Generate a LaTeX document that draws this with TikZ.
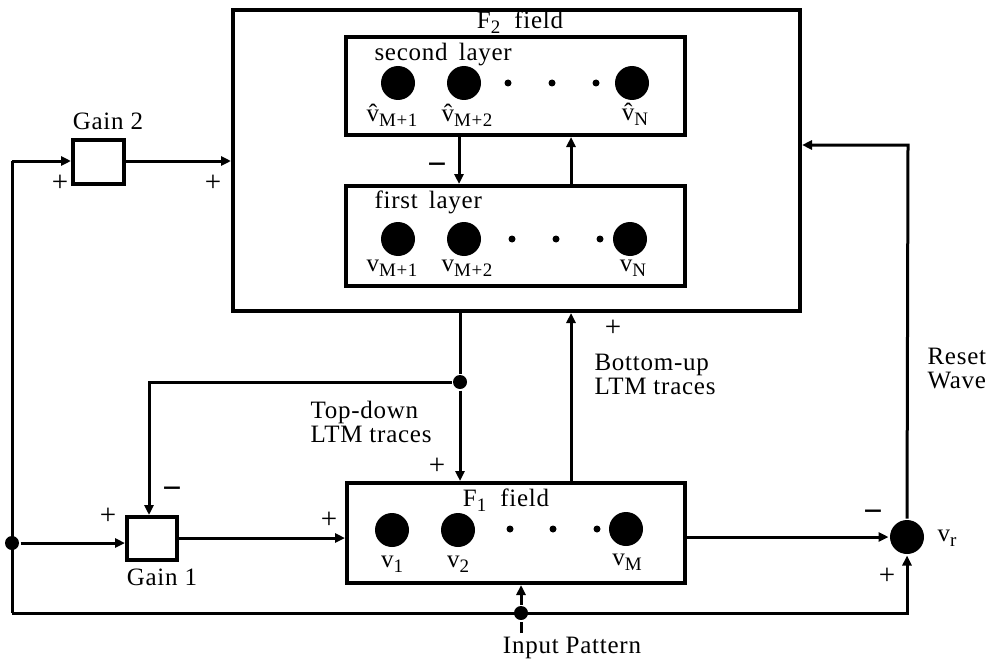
\documentclass[tikz,border=0pt]{standalone}
\usepackage{fontspec}
\setmainfont{Liberation Serif}[LetterSpace=3]
\usetikzlibrary{arrows.meta}
\newcommand\sbs[1]{\raisebox{-0.45ex}{\fontsize{19}{19}\selectfont #1}}
\newcommand\hv{\^{v}}
\begin{document}
\begin{tikzpicture}[x=1pt,y=-1pt, line width=3pt,
  box/.style={draw, line width=4pt, inner sep=0pt},
  neuron/.style={circle, fill=black, minimum size=34pt, inner sep=0pt},
  sdot/.style={circle, fill=black, minimum size=7pt, inner sep=0pt},
  jdot/.style={circle, fill=black, minimum size=14pt, inner sep=0pt},
  lbl/.style={font=\fontsize{25}{24}\selectfont, inner sep=0pt},
  sgn/.style={font=\fontsize{29}{29}\selectfont, inner sep=0pt},
  msgn/.style={font=\fontsize{34}{34}\selectfont\bfseries, inner sep=0pt},
  arr/.style={-{Triangle[length=10pt,width=9pt]}}]
\useasboundingbox (0,0) rectangle (995,666);
% boxes
\node[box, minimum width=567pt, minimum height=301pt] (F2) at (516.5,160.5) {};
\node[box, minimum width=339pt, minimum height=98pt] (L2) at (515.5,86) {};
\node[box, minimum width=339pt, minimum height=100pt] (L1) at (515.5,236) {};
\node[box, minimum width=338pt, minimum height=100pt] (F1) at (516,533) {};
\node[box, minimum width=51pt, minimum height=44pt] (G2) at (98.5,162) {};
\node[box, minimum width=50pt, minimum height=43pt] (G1) at (152,538.5) {};
% neurons second layer
\node[neuron] (s1) at (398,83) {};
\node[neuron] (s2) at (464,83) {};
\node[sdot] (sd1) at (508,83) {};
\node[sdot] (sd2) at (552,83) {};
\node[sdot] (sd3) at (596,83) {};
\node[neuron] (sN) at (632,83) {};
% first layer
\node[neuron] (f1) at (398,239) {};
\node[neuron] (f2) at (464,239) {};
\node[sdot] (fd1) at (512,239) {};
\node[sdot] (fd2) at (556,239) {};
\node[sdot] (fd3) at (600,239) {};
\node[neuron] (fN) at (630,239) {};
% F1
\node[neuron] (v1) at (392,530) {};
\node[neuron] (v2) at (458,530) {};
\node[sdot] (vd1) at (510,529) {};
\node[sdot] (vd2) at (553,529) {};
\node[sdot] (vd3) at (597,529) {};
\node[neuron] (vM) at (626,529) {};
% reset unit
\node[neuron] (vr) at (907,537) {};
% junctions
\node[jdot] (jT) at (460,382) {};
\node[jdot] (jL) at (12,543) {};
\node[jdot] (jI) at (521,613) {};
\coordinate (lt) at (12,161);
\coordinate (lb) at (12,613);
\coordinate (tdc) at (149,382);
\coordinate (rst) at (908,145);
\coordinate (inp) at (521,633);
% texts
\node[lbl] (tF2) at (520,22) {F\sbs{2}\ \ field};
\node[lbl, anchor=west] (tsl) at (373,55) {second\, layer};
\node[lbl] (ts1) at (392,115) {\hv\sbs{M+1}};
\node[lbl] (ts2) at (467,115) {\hv\sbs{M+2}};
\node[lbl] (tsN) at (635,114) {\hv\sbs{N}};
\node[lbl, anchor=west] (tfl) at (373,202) {first\, layer};
\node[lbl] (tf1) at (392,268) {v\sbs{M+1}};
\node[lbl] (tf2) at (467,268) {v\sbs{M+2}};
\node[lbl] (tfN) at (633,268) {v\sbs{N}};
\node[msgn] (m1) at (437,169) {−};
\node[lbl] (tG2) at (108,121) {Gain 2};
\node[sgn] (p1) at (60,183) {+};
\node[sgn] (p2) at (213,183) {+};
\node[lbl, align=left, anchor=north west] (ttd) at (309,400) {Top-down\\LTM traces};
\node[lbl, align=left, anchor=north west] (tbu) at (593,353) {Bottom-up\\LTM traces};
\node[lbl, align=left, anchor=north west] (trw) at (926,347) {Reset\\Wave};
\node[sgn] (p3) at (613,328) {+};
\node[sgn] (p4) at (437,466) {+};
\node[msgn] (m2) at (172,493) {−};
\node[sgn] (p5) at (108,516) {+};
\node[sgn] (p6) at (329,520) {+};
\node[msgn] (m3) at (873,516) {−};
\node[sgn] (p7) at (887,576) {+};
\node[lbl] (tG1) at (162,577) {Gain 1};
\node[lbl] (tF1) at (506,500) {F\sbs{1}\ \ field};
\node[lbl] (tv1) at (392,564) {v\sbs{1}};
\node[lbl] (tv2) at (458,564) {v\sbs{2}};
\node[lbl] (tvM) at (627,562) {v\sbs{M}};
\node[lbl] (tvr) at (947,538) {v\sbs{r}};
\node[lbl] (tin) at (572,648) {Input Pattern};
% connectors
\draw (lb) -- (lt);
\draw[arr] (lt) -- (G2.west |- lt);
\draw[arr] (G2.east |- lt) -- (F2.west |- lt);
\draw[arr] (jL) -- (G1.west |- jL);
\draw[arr] (G1.east |- 0,538) -- (F1.west |- 0,538);
\draw (F2.south -| jT) -- (jT);
\draw[arr] (jT) -- (F1.north -| jT);
\draw[arr] (jT) -- (tdc) -- (G1.north -| tdc);
\draw[arr] (F1.north -| 571,0) -- (F2.south -| 571,0);
\draw[arr] (L2.south -| 459,0) -- (L1.north -| 459,0);
\draw[arr] (L1.north -| 571,0) -- (L2.south -| 571,0);
\draw[arr] (F1.east |- vr) -- (vr.west);
\draw[arr] (vr.north) -- (rst) -- (F2.east |- rst);
\draw[arr] (lb) -- (vr.south |- lb) -- (vr.south);
\draw[arr] (jI) -- (F1.south -| jI);
\draw (inp) -- (jI);
\end{tikzpicture}
\end{document}
